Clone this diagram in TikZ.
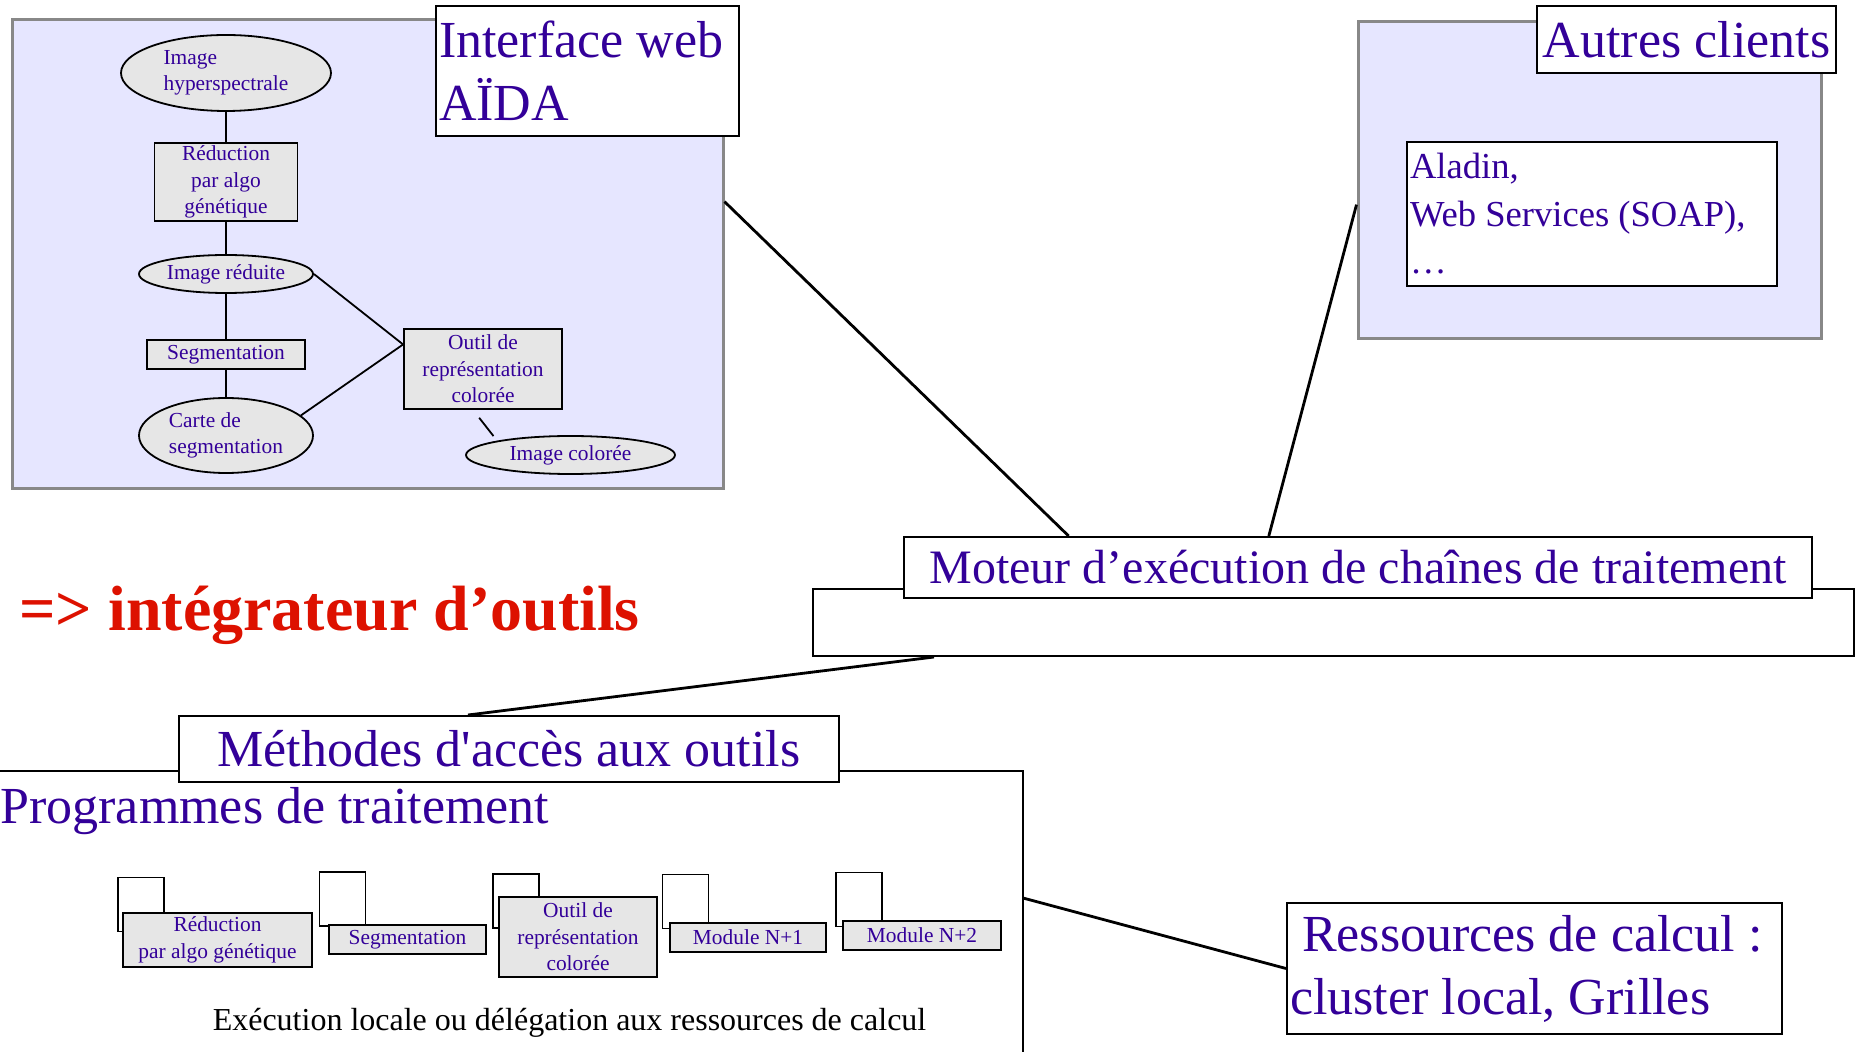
\documentclass[tikz,border=0pt]{standalone}
\usepackage{fontspec}
\setmainfont{Liberation Serif}
\usepackage{tikz}
\usetikzlibrary{shapes.geometric,calc,positioning}
\definecolor{PanelFill}{HTML}{E6E6FF}
\definecolor{PanelLine}{HTML}{888888}
\definecolor{ToolGrey}{HTML}{E6E6E6}
\definecolor{Ink}{HTML}{330099}
\definecolor{Alert}{HTML}{DD1100}
\newcommand{\bigsize}{\fontsize{26}{31.5}\selectfont}
\newcommand{\toolsize}{\fontsize{10.7}{13.3}\selectfont}

\begin{document}
\begin{tikzpicture}[
  x=0.5pt,y=-0.5pt,
  text=Ink,
  panel/.style={draw=PanelLine,fill=PanelFill,line width=1.5pt,inner sep=0pt},
  caption/.style={draw=black,fill=white,line width=1pt,font=\bigsize,
    inner sep=1.5pt},
  tool/.style={draw=black,fill=ToolGrey,line width=0.9pt,font=\toolsize,
    align=center,inner sep=1pt},
  dataell/.style={tool,ellipse,inner sep=0pt},
  backsquare/.style={draw=black,fill=white,line width=0.9pt,inner sep=0pt,
    minimum width=23pt,minimum height=27pt},
  link/.style={line width=0.9pt},
  wire/.style={line width=1.4pt}
]
  \useasboundingbox (0,0) rectangle (1856,1052);

  % web interface
  \node[panel,minimum width=355.5pt,minimum height=234.5pt] (webpanel)
    at (367.5,254.5) {};
  \node[caption,text width=148.5pt,align=flush left,minimum height=65pt]
    (webtitle) at (587.5,71) {Interface web\\AÏDA};
  \node[dataell,minimum width=105pt,minimum height=38pt,align=flush left]
    (hyper) at (226,73) {Image\\hyperspectrale};
  \node[tool,minimum width=71.5pt,minimum height=39pt] (reduc)
    at (226,182) {Réduction\\par algo\\génétique};
  \node[dataell,minimum width=87pt,minimum height=19pt] (reduite)
    at (226,274) {Image réduite};
  \node[tool,minimum width=79pt,minimum height=14.5pt] (segm)
    at (226,354.5) {Segmentation};
  \node[dataell,minimum width=87pt,minimum height=37.5pt,align=flush left]
    (carte) at (226,435.5) {Carte de\\segmentation};
  \node[tool,minimum width=79pt,minimum height=40pt] (outil)
    at (483,369) {Outil de\\représentation\\colorée};
  \node[dataell,minimum width=104.5pt,minimum height=19pt] (imgcol)
    at (570.5,455) {Image colorée};

  \draw[link] (hyper) -- (reduc);
  \draw[link] (reduc) -- (reduite);
  \draw[link] (reduite) -- (segm);
  \draw[link] (segm) -- (carte);
  \coordinate (outilin) at ($(outil.north west)!0.2!(outil.south west)$);
  \draw[link] (reduite.east) -- (outilin);
  \draw[link] (carte.15) -- (outilin);
  \draw[link,shorten <=5pt] ($(outil.south)+(-10,0)$)
    -- ($(imgcol.north)+(-77,1)$);

  % other clients
  \node[panel,minimum width=231.5pt,minimum height=158.5pt] (clientpanel)
    at (1589.5,180) {};
  \node[caption,minimum width=149.5pt,minimum height=33.5pt] (clienttitle)
    at (1686.5,39.5) {Autres clients};
  \node[caption,font=\fontsize{18.3}{23.75}\selectfont,text width=182pt,
    align=flush left,minimum height=72pt] (aladin)
    at (1592,214) {Aladin,\\Web Services (SOAP),\\\ldots};

  % execution engine
  \node[caption,minimum width=520.5pt,minimum height=33.5pt] (motback)
    at (1333.5,622.5) {};
  \node[caption,font=\fontsize{24}{29}\selectfont,minimum width=454pt,
    minimum height=30.5pt] (motitle)
    at (1358,567.5) {Moteur d’exécution de chaînes de traitement};

  \draw[wire] ($(webpanel.north east)!0.388!(webpanel.south east)$)
    -- ($(motitle.north west)!0.182!(motitle.north east)$);
  \draw[wire] ($(clientpanel.north west)!0.577!(clientpanel.south west)$)
    -- ($(motitle.north west)!0.402!(motitle.north east)$);

  \node[anchor=base west,inner sep=0pt,text=Alert,
    font=\fontsize{32}{38}\selectfont\bfseries] (slogan)
    at (19,631) {=> intégrateur d’outils};

  % processing programs
  \draw[line width=1pt] (0,771) -| (1023,1052);
  \node[caption,minimum width=330pt,minimum height=33pt] (methodes)
    at (509,749) {Méthodes d\textquotesingle accès aux outils};
  \draw[wire] ($(motback.south west)+(122,0)$)
    -- ($(methodes.north)+(-41,0)$);
  \node[anchor=base west,inner sep=0pt,font=\bigsize] (progtitle)
    at (0,823) {Programmes de traitement};

  \node[backsquare] (sq1) at (141,904.5) {};
  \node[tool,minimum width=94.5pt,minimum height=27pt] (mod1)
    at (217.5,940) {Réduction\\par algo génétique};
  \node[backsquare] (sq2) at (342.5,899) {};
  \node[tool,minimum width=78.5pt,minimum height=14.5pt] (mod2)
    at (407.5,939.5) {Segmentation};
  \node[backsquare] (sq3) at (516,901) {};
  \node[tool,minimum width=79pt,minimum height=40pt] (mod3)
    at (578,937) {Outil de\\représentation\\colorée};
  \node[backsquare] (sq4) at (685.5,901.5) {};
  \node[tool,minimum width=78pt,minimum height=14.5pt] (mod4)
    at (748,937.5) {Module N+1};
  \node[backsquare] (sq5) at (859,899.5) {};
  \node[tool,minimum width=79pt,minimum height=14.5pt] (mod5)
    at (922,935.5) {Module N+2};

  \node[anchor=base,inner sep=0pt,font=\fontsize{16}{19}\selectfont,
    text=black] (exec) at (569.5,1030)
    {Exécution locale ou délégation aux ressources de calcul};

  % computing resources
  \node[caption,text width=244.5pt,align=flush left,minimum height=65.5pt]
    (ressources) at (1534.5,968.5)
    {\hspace*{6pt}Ressources de calcul :\\cluster local, Grilles};
  \coordinate (framehook) at (1023,898);
  \draw[wire] (framehook) -- (ressources.west);
\end{tikzpicture}
\end{document}
